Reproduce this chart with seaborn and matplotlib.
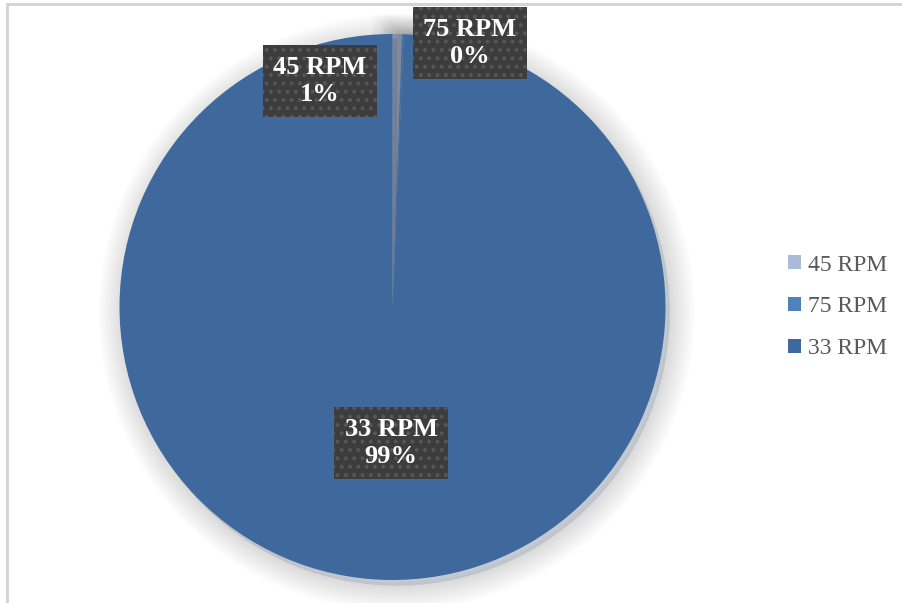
import matplotlib.pyplot as plt
import matplotlib.patheffects as pe
from matplotlib.patches import Rectangle, Patch
import seaborn as sns

# data
speeds = ['45 RPM', '75 RPM', '33 RPM']
shares = [0.55, 0.1, 99.35]
pct_labels = ['1%', '0%', '99%']
slice_colors = ['#A9BADA', '#4F81BD', '#3F699C']

sns.set_theme(style='white')
plt.rcParams['font.family'] = ['Liberation Serif', 'DejaVu Serif']
plt.rcParams['hatch.color'] = '#585858'
plt.rcParams['hatch.linewidth'] = 1.6

fig = plt.figure(figsize=(9.02, 6.03), dpi=100)
fig.patch.set_facecolor('white')

# chart frame (only top/left edges visible in the crop)
fig.patches.append(Rectangle((7 / 902, -0.2), 1.3, 1.2 - 4 / 603, transform=fig.transFigure,
                             fill=False, edgecolor='#d2d2d2', linewidth=2, zorder=0))

cx, cy, r = 392.5, 307, 273
ax = fig.add_axes([(cx - r) / 902, (603 - cy - r) / 603, 2 * r / 902, 2 * r / 603])

# soft shadow round the pie
shadow = [pe.Stroke(linewidth=w, foreground='#000000', alpha=0.01, offset=(3, -4))
          for w in range(36, 0, -3)]

wedges, _ = ax.pie(shares, colors=slice_colors, startangle=90, counterclock=False,
                   radius=1, wedgeprops=dict(linewidth=0))
for w in wedges:
    w.set_path_effects(shadow + [pe.Normal()])

ax.set_xlim(-1, 1)
ax.set_ylim(-1, 1)
ax.set_aspect('equal')
ax.axis('off')

# data labels
label_pos = [(-0.266, 0.828), (0.284, 0.967), (-0.005, -0.498)]
for name, pct, (lx, ly) in zip(speeds, pct_labels, label_pos):
    ax.text(lx, ly, f'{name}\n{pct}', ha='center', va='center', color='white',
            fontsize=19, fontweight='bold', linespacing=1.25, zorder=5,
            bbox=dict(boxstyle='square,pad=0.4', facecolor='#3d3d3d', edgecolor='#575757',
                      linewidth=0, hatch='..'))

handles = [Patch(facecolor=c, edgecolor='none') for c in slice_colors]
fig.legend(handles, speeds, loc='center left', bbox_to_anchor=(767 / 902, 1 - 307 / 603),
           frameon=False, fontsize=17, labelcolor='#595959', handlelength=0.55,
           handleheight=0.55, handletextpad=0.3, labelspacing=0.88)

fig.savefig('out.png', dpi=100)
